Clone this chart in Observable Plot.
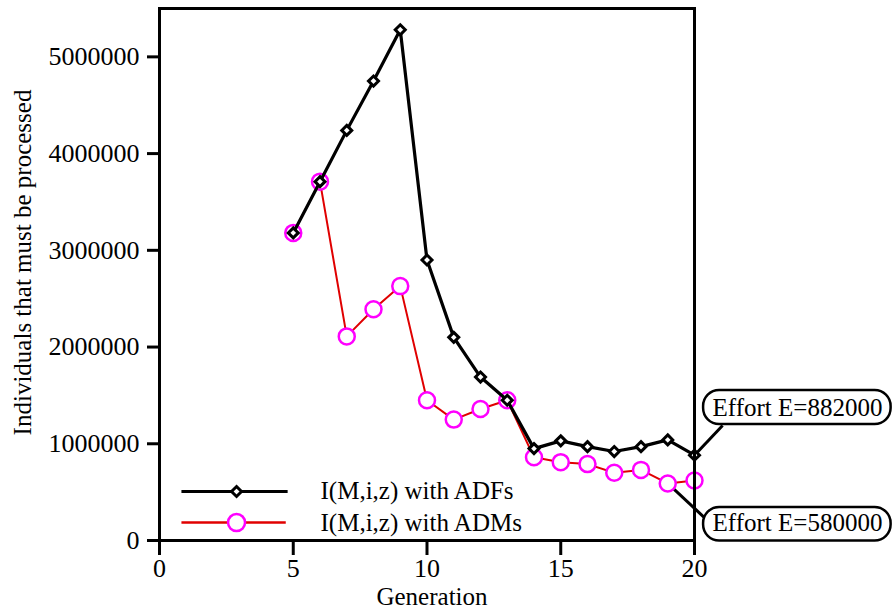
<!DOCTYPE html>
<html>
<head>
<meta charset="utf-8">
<script src="https://cdn.jsdelivr.net/npm/d3@7"></script>
<script src="https://cdn.jsdelivr.net/npm/@observablehq/plot@0.6"></script>
<style>
  html, body { margin: 0; padding: 0; background: #fff; }
  #chart svg g[aria-label^="x-axis"] line,
  #chart svg g[aria-label^="y-axis"] line,
  #chart svg g[aria-label$="tick"] path { stroke-width: 3px; stroke: #000; }
</style>
</head>
<body>
<div id="chart"></div>
<script>
// ---- data ----
const generations = [5, 6, 7, 8, 9, 10, 11, 12, 13, 14, 15, 16, 17, 18, 19, 20];
const adfValues = [3180000, 3710000, 4240000, 4750000, 5280000, 2900000, 2100000, 1690000, 1450000, 950000, 1030000, 970000, 920000, 970000, 1040000, 882000];
const admValues = [3180000, 3710000, 2110000, 2390000, 2630000, 1450000, 1250000, 1360000, 1450000, 860000, 810000, 790000, 700000, 730000, 590000, 620000];
const xTicks = [0, 5, 10, 15, 20];
const yTicks = [0, 1000000, 2000000, 3000000, 4000000, 5000000];
const seriesNames = ["I(M,i,z) with ADFs", "I(M,i,z) with ADMs"];
const annotationTexts = ["Effort E=882000", "Effort E=580000"];
const xLabel = "Generation";
const yLabel = "Individuals that must be processed";

const adf = generations.map((g, i) => ({g, v: adfValues[i]}));
const adm = generations.map((g, i) => ({g, v: admValues[i]}));

// annotation layout (in data units)
const boxes = [
  {x1: 20.34, x2: 27.35, y1: 1199000, y2: 1551000, tx: 23.85, ty: 1375000, text: annotationTexts[0]},
  {x1: 20.34, x2: 27.35, y1: -5000, y2: 341000, tx: 23.85, ty: 176000, text: annotationTexts[1]}
];
const pointers = [
  {x1: 20, y1: adfValues[15], x2: 21.05, y2: 1189000},
  {x1: 19, y1: admValues[14], x2: 20.41, y2: 227000}
];
const legendRows = [
  {x1: 0.82, x2: 4.79, xm: 2.88, xt: 6.02, y: 506600, text: seriesNames[0]},
  {x1: 0.82, x2: 4.72, xm: 2.88, xt: 6.02, y: 186000, text: seriesNames[1]}
];

const FONT = "'Liberation Serif', 'Times New Roman', Times, serif";
const RED = "#e00000", MAGENTA = "#ff00ff";

const chart = Plot.plot({
  width: 893,
  height: 609,
  marginLeft: 159,
  marginRight: 199,
  marginTop: 8,
  marginBottom: 69,
  style: {fontFamily: FONT, fontSize: "26px", color: "#000", background: "#fff"},
  x: {domain: [0, 20], ticks: xTicks, tickSize: 15, tickPadding: 3, label: null},
  y: {domain: [0, 5500000], ticks: yTicks, tickSize: 12, tickPadding: 8, tickFormat: d3.format("d"), label: null},
  marks: [
    // pointer lines for annotations
    Plot.link(pointers, {x1: "x1", y1: "y1", x2: "x2", y2: "y2", stroke: "#000", strokeWidth: 3}),
    // ADMs series
    Plot.line(adm, {x: "g", y: "v", stroke: RED, strokeWidth: 2}),
    Plot.dot(adm, {x: "g", y: "v", r: 8, stroke: MAGENTA, strokeWidth: 2.5, fill: "#fff"}),
    // ADFs series
    Plot.line(adf, {x: "g", y: "v", stroke: "#000", strokeWidth: 3.2}),
    Plot.dot(adf, {x: "g", y: "v", symbol: "diamond2", r: 4.5, stroke: "#000", strokeWidth: 3, fill: "#fff"}),
    // legend
    Plot.link([legendRows[0]], {x1: "x1", x2: "x2", y1: "y", y2: "y", stroke: "#000", strokeWidth: 3}),
    Plot.dot([legendRows[0]], {x: "xm", y: "y", symbol: "diamond2", r: 4.5, stroke: "#000", strokeWidth: 3, fill: "#fff"}),
    Plot.link([legendRows[1]], {x1: "x1", x2: "x2", y1: "y", y2: "y", stroke: RED, strokeWidth: 2.5}),
    Plot.dot([legendRows[1]], {x: "xm", y: "y", r: 8.5, stroke: MAGENTA, strokeWidth: 2.5, fill: "#fff"}),
    Plot.text(legendRows, {x: "xt", y: "y", text: "text", textAnchor: "start", fontSize: 25, fontFamily: FONT, fill: "#000"}),
    // annotation boxes
    Plot.rect(boxes, {x1: "x1", x2: "x2", y1: "y1", y2: "y2", rx: 16, ry: 16, fill: "#fff", stroke: "#000", strokeWidth: 2.5}),
    Plot.text(boxes, {x: "tx", y: "ty", text: "text", fontSize: 25, fontFamily: FONT, fill: "#000"}),
    // frame
    Plot.frame({stroke: "#000", strokeWidth: 3}),
    // axis titles
    Plot.text([xLabel], {frameAnchor: "bottom", textAnchor: "middle", dx: 5, dy: 64, fontSize: 25, fontFamily: FONT, fill: "#000"}),
    Plot.text([yLabel], {frameAnchor: "left", textAnchor: "middle", dx: -137, dy: -12, rotate: -90, fontSize: 25, fontFamily: FONT, fill: "#000"})
  ]
});
document.getElementById("chart").appendChild(chart);
</script>
</body>
</html>
